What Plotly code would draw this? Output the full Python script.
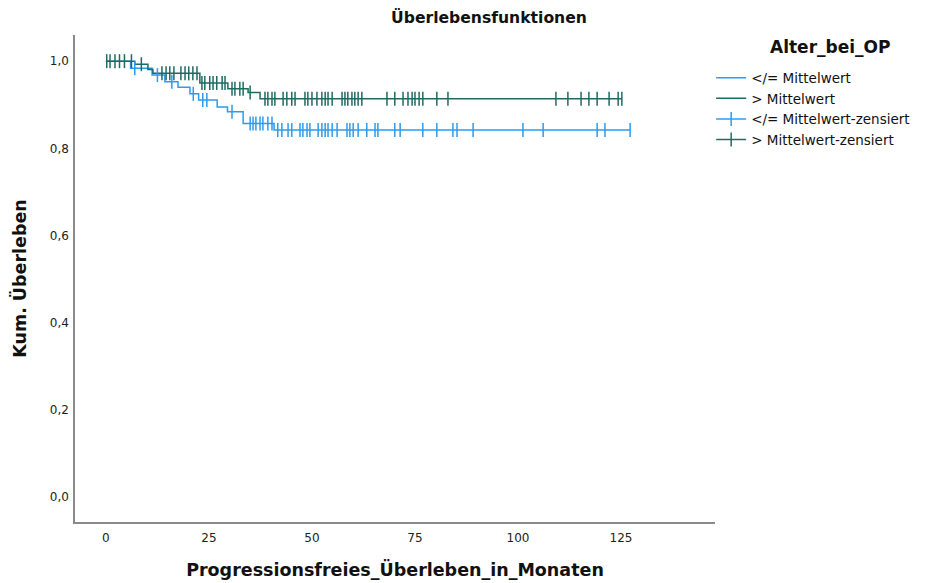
import numpy as np
import plotly.graph_objects as go

# ---- data ----
# Group "</= Mittelwert"
low_event_times = [0.0, 6.0, 11.2, 14.3, 17.5, 20.4, 22.5, 27.0, 29.5, 33.3, 40.8]
low_event_surv = [1.0, 0.984, 0.968, 0.953, 0.940, 0.925, 0.911, 0.895, 0.884, 0.857, 0.842]
low_end_time = 127.2
low_censor_times = [7.0, 12.5, 16.0, 21.2, 23.5, 24.5, 30.6,
                    35.0, 35.7, 36.4, 37.4, 38.1, 39.3, 40.3,
                    41.7, 42.7, 44.2, 45.1, 47.1, 47.8, 48.8, 49.5, 51.5, 52.4, 53.2,
                    53.9, 54.9, 56.1, 58.5, 59.2, 60.0, 61.2, 63.3, 65.3, 66.0, 70.1,
                    71.4, 76.9, 80.3, 84.2, 85.2, 89.1, 101.2, 106.1, 119.2, 121.1, 127.2]

# Group "> Mittelwert"
high_event_times = [0.0, 7.0, 10.2, 11.4, 22.8, 29.6, 34.5, 37.4]
high_event_surv = [1.0, 0.993, 0.981, 0.972, 0.950, 0.937, 0.928, 0.914]
high_end_time = 125.2
high_censor_times = [0.2, 1.0, 2.2, 3.3, 4.5, 6.2, 8.6, 13.6, 14.6, 15.5, 16.5, 18.2,
                     19.2, 20.1, 21.1, 22.1, 23.3, 24.0, 25.2, 26.0, 26.9, 28.2, 28.9,
                     30.6, 31.3, 32.5, 33.3, 35.0, 38.6, 39.3, 40.3, 41.0, 43.0, 43.9,
                     45.1, 45.9, 48.3, 49.0, 50.0, 51.2, 52.4, 53.2, 53.9, 54.9, 57.3,
                     58.0, 58.7, 59.7, 60.4, 61.2, 62.1, 68.2, 70.1, 72.1, 73.3, 74.3,
                     75.0, 76.0, 76.9, 80.3, 83.0, 109.2, 112.1, 115.3, 117.2, 119.2,
                     122.1, 124.3, 125.2]

group_names = ["</= Mittelwert", "> Mittelwert"]
censor_names = ["</= Mittelwert-zensiert", "> Mittelwert-zensiert"]
legend_title = "Alter_bei_OP"
x_ticks = [0, 25, 50, 75, 100, 125]
y_ticks = [0.0, 0.2, 0.4, 0.6, 0.8, 1.0]

BLUE = "#2b9cf0"
GREEN = "#1f6b63"
FONT = "DejaVu Sans"


def step_xy(times, surv, end_time):
    return list(times) + [end_time], list(surv) + [surv[-1]]


def censor_xy(ctimes, times, surv):
    t = np.asarray(times)
    s = np.asarray(surv)
    xs, ys = [], []
    for c in ctimes:
        idx = np.searchsorted(t, c, side="right") - 1
        xs += [c, None]
        ys += [float(s[idx]), None]
    return xs, ys


fig = go.Figure()

groups = [
    (low_event_times, low_event_surv, low_end_time, low_censor_times, BLUE),
    (high_event_times, high_event_surv, high_end_time, high_censor_times, GREEN),
]

for i, (et, es, end, ct, col) in enumerate(groups):
    x, y = step_xy(et, es, end)
    fig.add_trace(go.Scatter(x=x, y=y, mode="lines", line=dict(color=col, width=1.5, shape="hv"),
                             name=group_names[i], hoverinfo="skip"))

for i, (et, es, end, ct, col) in enumerate(groups):
    cx, cy = censor_xy(ct, et, es)
    fig.add_trace(go.Scatter(x=cx, y=cy, mode="lines+markers", connectgaps=False,
                             line=dict(color=col, width=1.5),
                             marker=dict(symbol="line-ns", size=10, line=dict(color=col, width=1.5)),
                             name=censor_names[i], hoverinfo="skip"))

fig.update_layout(
    width=945, height=583,
    margin=dict(l=67, r=238, t=27, b=69),
    paper_bgcolor="white", plot_bgcolor="white",
    separators=",.",
    font=dict(family=FONT, size=12, color="#222222"),
    title=dict(text="<b>Überlebensfunktionen</b>", x=0.509, xref="container", xanchor="center",
               y=1 - 10 / 583, yref="container", yanchor="middle",
               font=dict(family=FONT, size=15.6, color="#111111")),
    showlegend=True,
    legend=dict(x=0.994, xanchor="left", y=0.9435, yanchor="top",
                font=dict(family=FONT, size=13.5, color="#111111"),
                tracegroupgap=0, itemwidth=30, bgcolor="rgba(0,0,0,0)"),
    annotations=[dict(text="<b>" + legend_title + "</b>", xref="paper", yref="paper",
                      x=1.180, y=0.975, xanchor="center", yanchor="middle", showarrow=False,
                      font=dict(family=FONT, size=17, color="#111111"))],
)

fig.update_xaxes(range=[-7.5, 147.8], tickvals=x_ticks, ticktext=[str(v) for v in x_ticks],
                 showgrid=False, zeroline=False, showline=True, linecolor="#8a8a8a", linewidth=1.5,
                 ticks="", ticklen=0, ticklabelstandoff=4, automargin=False,
                 title=dict(text="<b>Progressionsfreies_Überleben_in_Monaten</b>",
                            font=dict(family=FONT, size=17.5, color="#111111"), standoff=20))
fig.update_yaxes(range=[-0.057, 1.06], tickvals=y_ticks, tickformat=".1f",
                 showgrid=False, zeroline=False, showline=True, linecolor="#8a8a8a", linewidth=1.5,
                 ticks="", ticklen=0, ticklabelstandoff=2, automargin=False,
                 title=dict(text="<b>Kum. Überleben</b>",
                            font=dict(family=FONT, size=17.5, color="#111111"), standoff=19))

fig.write_html("out.html")
